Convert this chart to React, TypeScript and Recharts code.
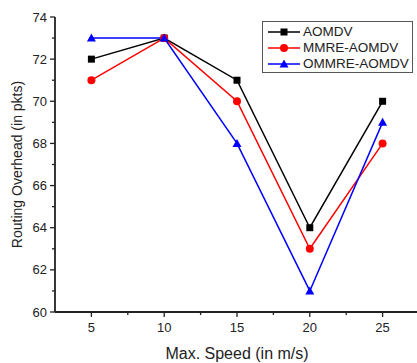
import { Legend, Line, LineChart, XAxis, YAxis } from "recharts";

// Routing overhead vs. max node speed, three protocols.
const speeds = [5, 10, 15, 20, 25];
const aomdv = [72, 73, 71, 64, 70];
const mmreAomdv = [71, 73, 70, 63, 68];
const ommreAomdv = [73, 73, 68, 61, 69];

const xTicks = [5, 7.5, 10, 12.5, 15, 17.5, 20, 22.5, 25];
const yTicks = [60, 61, 62, 63, 64, 65, 66, 67, 68, 69, 70, 71, 72, 73, 74];

const rows = speeds.map((s, i) => ({
  speed: s,
  aomdv: aomdv[i],
  mmre: mmreAomdv[i],
  ommre: ommreAomdv[i],
}));

const INK = "#222";
const FONT = "'Liberation Sans', Arial, sans-serif";

type Shape = "square" | "circle" | "triangle";

const SERIES: { key: string; name: string; color: string; shape: Shape }[] = [
  { key: "aomdv", name: "AOMDV", color: "#000000", shape: "square" },
  { key: "mmre", name: "MMRE-AOMDV", color: "#ff0000", shape: "circle" },
  { key: "ommre", name: "OMMRE-AOMDV", color: "#0000ff", shape: "triangle" },
];

function Marker({ cx, cy, shape, color }: { cx: number; cy: number; shape: Shape; color: string }) {
  if (shape === "square") return <rect x={cx - 3.5} y={cy - 3.5} width={7} height={7} fill={color} />;
  if (shape === "circle") return <circle cx={cx} cy={cy} r={4} fill={color} />;
  return <polygon points={`${cx},${cy - 4.5} ${cx + 4.5},${cy + 3.5} ${cx - 4.5},${cy + 3.5}`} fill={color} />;
}

function dotFor(shape: Shape, color: string) {
  return (p: any) => <Marker key={p.index} cx={p.cx} cy={p.cy} shape={shape} color={color} />;
}

function YTick({ x, y, payload }: any) {
  const major = payload.value % 2 === 0;
  const len = major ? 5 : 3;
  return (
    <g>
      <line x1={x} x2={x - len} y1={y} y2={y} stroke={INK} strokeWidth={1.3} />
      {major && (
        <text x={x - 8} y={y + 4.5} textAnchor="end" fontSize={13} fill={INK} fontFamily={FONT}>
          {payload.value}
        </text>
      )}
    </g>
  );
}

function XTick({ x, y, payload }: any) {
  const major = Number.isInteger(payload.value);
  const len = major ? 5 : 3;
  return (
    <g>
      <line x1={x} x2={x} y1={y} y2={y + len} stroke={INK} strokeWidth={1.3} />
      {major && (
        <text x={x} y={y + 20} textAnchor="middle" fontSize={13} fill={INK} fontFamily={FONT}>
          {payload.value}
        </text>
      )}
    </g>
  );
}

function LegendBox() {
  return (
    <div
      style={{
        border: "1px solid #555",
        background: "#fff",
        padding: "2px 3px 0 5px",
        fontFamily: FONT,
        fontSize: 13.5,
        color: INK,
        lineHeight: "16px",
      }}
    >
      {SERIES.map((s) => (
        <div key={s.key} style={{ display: "flex", alignItems: "center", height: 16 }}>
          <svg width={32} height={12} style={{ marginRight: 3 }}>
            <line x1={0} x2={32} y1={6} y2={6} stroke={s.color} strokeWidth={1.5} />
            <Marker cx={16} cy={6} shape={s.shape} color={s.color} />
          </svg>
          <span>{s.name}</span>
        </div>
      ))}
    </div>
  );
}

export default function App() {
  return (
    <div style={{ position: "absolute", left: 0, top: 0, width: 417, height: 363, overflow: "hidden", background: "#fff" }}>
      <LineChart width={425} height={363} data={rows} margin={{ top: 17, right: 6, bottom: 0, left: 0 }}>
        <XAxis
          dataKey="speed"
          type="number"
          domain={[2.5, 27.5]}
          ticks={xTicks}
          interval={0}
          height={51}
          tickSize={0}
          tickMargin={0}
          tick={<XTick />}
          axisLine={{ stroke: INK, strokeWidth: 1.8 }}
          label={{ value: "Max. Speed (in m/s)", position: "insideBottom", offset: 4, fontSize: 16, fill: INK, fontFamily: FONT }}
        />
        <YAxis
          type="number"
          domain={[60, 74]}
          ticks={yTicks}
          interval={0}
          width={55}
          tickSize={0}
          tickMargin={0}
          tick={<YTick />}
          axisLine={{ stroke: INK, strokeWidth: 1.8 }}
          label={{
            value: "Routing Overhead (in pkts)",
            angle: -90,
            position: "insideLeft",
            offset: 17,
            fontSize: 14,
            fill: INK,
            fontFamily: FONT,
            style: { textAnchor: "middle" },
          }}
        />
        {/* centre/middle so the legend reserves no space; it is placed by wrapperStyle */}
        <Legend
          layout="vertical"
          verticalAlign="middle"
          align="center"
          content={<LegendBox />}
          wrapperStyle={{ left: 262, top: 21, width: "auto" }}
        />
        {SERIES.map((s) => (
          <Line
            key={s.key}
            dataKey={s.key}
            name={s.name}
            stroke={s.color}
            strokeWidth={1.5}
            type="linear"
            dot={dotFor(s.shape, s.color)}
            activeDot={false}
            isAnimationActive={false}
          />
        ))}
      </LineChart>
    </div>
  );
}
